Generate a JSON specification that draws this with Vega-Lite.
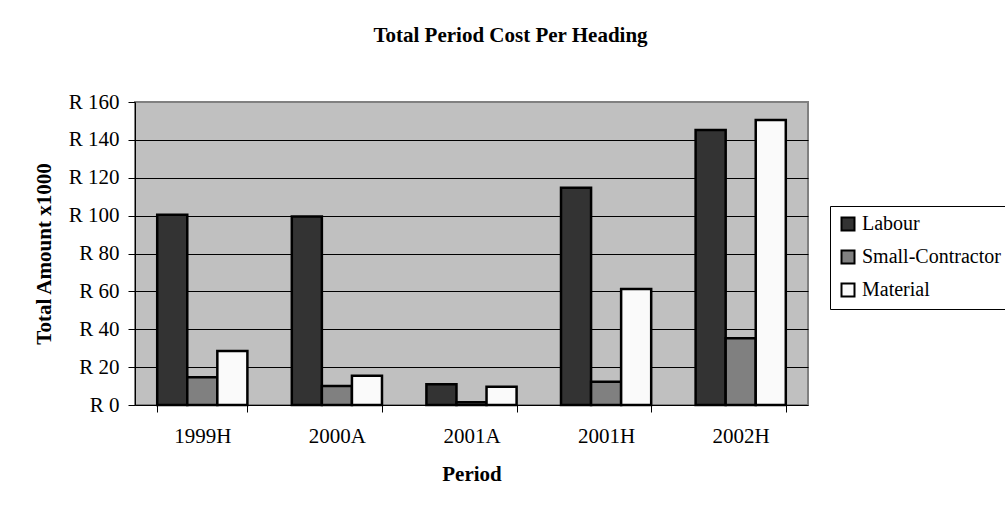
{
  "$schema": "https://vega.github.io/schema/vega-lite/v6.json",
  "autosize": {"type": "none"},
  "width": 673,
  "height": 303,
  "padding": {"left": 135, "top": 102, "right": 197, "bottom": 102},
  "background": "white",
  "title": {
    "text": "Total Period Cost Per Heading",
    "font": "Liberation Serif",
    "fontSize": 21,
    "fontWeight": "bold",
    "color": "black",
    "anchor": "middle",
    "dx": 39,
    "offset": 45
  },
  "data": {
    "values": [
      {"period": "1999H", "heading": "Labour", "amount": 100.4},
      {"period": "1999H", "heading": "Small-Contractor", "amount": 14.6},
      {"period": "1999H", "heading": "Material", "amount": 28.5},
      {"period": "2000A", "heading": "Labour", "amount": 99.6},
      {"period": "2000A", "heading": "Small-Contractor", "amount": 10.0},
      {"period": "2000A", "heading": "Material", "amount": 15.5},
      {"period": "2001A", "heading": "Labour", "amount": 11.0},
      {"period": "2001A", "heading": "Small-Contractor", "amount": 1.4},
      {"period": "2001A", "heading": "Material", "amount": 9.7},
      {"period": "2001H", "heading": "Labour", "amount": 114.7},
      {"period": "2001H", "heading": "Small-Contractor", "amount": 12.3},
      {"period": "2001H", "heading": "Material", "amount": 61.2},
      {"period": "2002H", "heading": "Labour", "amount": 145.2},
      {"period": "2002H", "heading": "Small-Contractor", "amount": 35.2},
      {"period": "2002H", "heading": "Material", "amount": 150.5}
    ]
  },
  "mark": {"type": "bar", "stroke": "black", "strokeWidth": 2.5, "strokeJoin": "miter"},
  "encoding": {
    "x": {
      "field": "period",
      "type": "nominal",
      "sort": ["1999H", "2000A", "2001A", "2001H", "2002H"],
      "scale": {"paddingInner": 0.33, "paddingOuter": 0.165},
      "axis": {
        "title": "Period",
        "labelAngle": 0,
        "tickBand": "extent",
        "tickSize": 7,
        "tickColor": "black",
        "domainColor": "black",
        "labelPadding": 13,
        "titlePadding": 17,
        "labelFont": "Liberation Serif",
        "labelFontSize": 21,
        "labelColor": "black",
        "titleFont": "Liberation Serif",
        "titleFontSize": 21,
        "titleFontWeight": "bold",
        "titleColor": "black",
        "grid": false
      }
    },
    "xOffset": {
      "field": "heading",
      "type": "nominal",
      "sort": ["Labour", "Small-Contractor", "Material"],
      "scale": {"paddingInner": 0, "paddingOuter": 0}
    },
    "y": {
      "field": "amount",
      "type": "quantitative",
      "scale": {"domain": [0, 160], "nice": false},
      "axis": {
        "title": "Total Amount x1000",
        "values": [0, 20, 40, 60, 80, 100, 120, 140, 160],
        "labelExpr": "'R ' + datum.value",
        "tickSize": 7,
        "tickColor": "black",
        "domainColor": "black",
        "grid": true,
        "gridColor": {"condition": {"test": "datum.value >= 160 || datum.value <= 0", "value": "#808080"}, "value": "black"},
        "gridWidth": 1,
        "labelPadding": 9,
        "titlePadding": 14,
        "labelFont": "Liberation Serif",
        "labelFontSize": 21,
        "labelColor": "black",
        "titleFont": "Liberation Serif",
        "titleFontSize": 21,
        "titleFontWeight": "bold",
        "titleColor": "black"
      }
    },
    "color": {
      "field": "heading",
      "type": "nominal",
      "sort": ["Labour", "Small-Contractor", "Material"],
      "scale": {
        "domain": ["Labour", "Small-Contractor", "Material"],
        "range": ["#333333", "#808080", "#FAFAFA"]
      },
      "legend": {
        "title": null,
        "orient": "none",
        "legendX": 695,
        "legendY": 104,
        "symbolType": "square",
        "symbolSize": 169,
        "symbolStrokeColor": "black",
        "symbolStrokeWidth": 2,
        "symbolOpacity": 1,
        "labelFont": "Liberation Serif",
        "labelFontSize": 20,
        "labelColor": "black",
        "labelOffset": 4,
        "labelLimit": 300,
        "rowPadding": 11,
        "padding": 8,
        "strokeColor": "black",
        "fillColor": "white",
        "cornerRadius": 0,
        "encode": {
          "labels": {"update": {"font": {"value": "Liberation Serif"}, "fontSize": {"value": 20}}}
        }
      }
    }
  },
  "config": {
    "font": "Liberation Serif",
    "legend": {"labelFont": "Liberation Serif"},
    "view": {"stroke": "#808080", "strokeWidth": 2, "fill": "#C0C0C0"}
  }
}
